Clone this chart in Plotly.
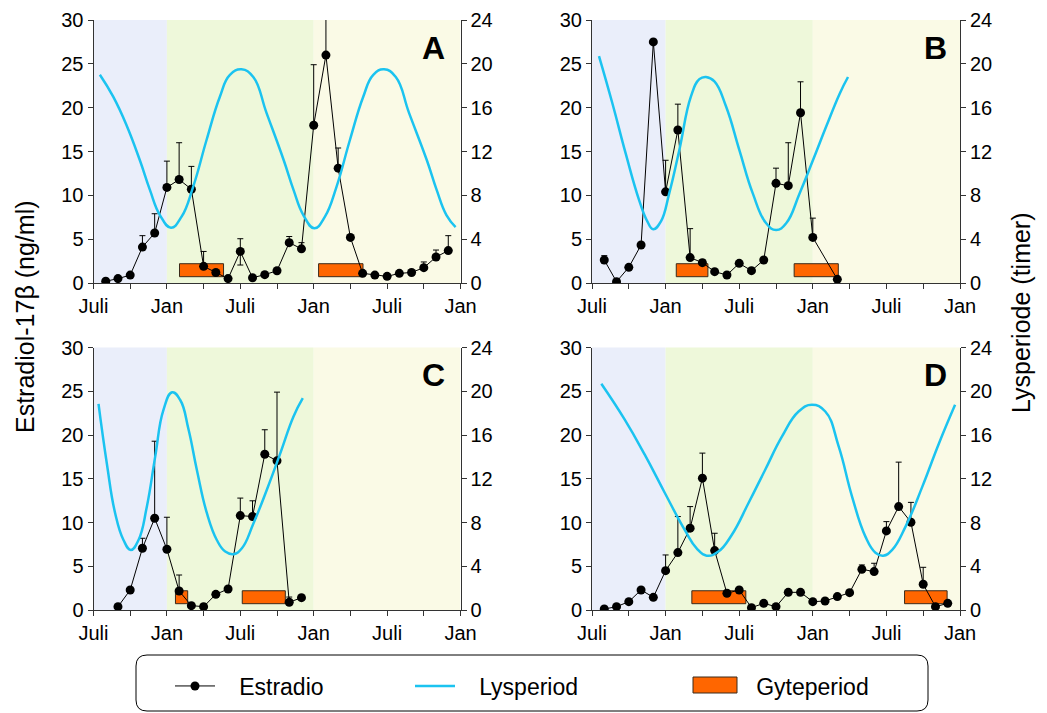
import plotly.graph_objects as go

W, H = 1047, 713
FONT = "Liberation Sans, Arial, sans-serif"

# ---------------- data ----------------
month_ticks = [0, 3, 6, 9, 12, 15, 18, 21, 24, 27, 30]
month_text = ["Juli", "", "Jan", "", "Juli", "", "Jan", "", "Juli", "", "Jan"]
left_ticks = [0, 5, 10, 15, 20, 25, 30]
right_ticks = [0, 4, 8, 12, 16, 20, 24]
season_edges = [0, 6, 18, 30]
season_colors = ["#EAEEFA", "#EEF8DA", "#FAFAE6"]

# Estradiol (ng/ml): month, mean, upper error, lower error
A_months = list(range(1, 30))
A_e2 = [0.2, 0.5, 0.9, 4.1, 5.7, 10.9, 11.8, 10.7, 1.9, 1.2, 0.5, 3.6, 0.6, 0.95, 1.4,
        4.6, 3.9, 18.0, 26.0, 13.1, 5.2, 1.1, 0.9, 0.76, 1.1, 1.2, 1.75, 2.96, 3.7]
A_err = [0, 0, 0, 1.3, 2.2, 3.0, 4.2, 2.6, 1.7, 0, 0, 1.45, 0, 0, 0,
         0.7, 0.7, 6.9, 5.0, 2.3, 0, 0, 0, 0, 0, 0, 0.65, 0.8, 1.7]
A_err_lo = [0] * 11 + [1.55] + [0] * 17

B_months = list(range(1, 19)) + [20]
B_e2 = [2.62, 0.15, 1.79, 4.33, 27.5, 10.4, 17.45, 2.9, 2.32, 1.29, 0.91, 2.24, 1.41,
        2.62, 11.37, 11.1, 19.42, 5.2, 0.42]
B_err = [0.5, 0, 0, 0, 0, 3.6, 2.95, 3.3, 0.3, 0, 0, 0, 0, 0, 1.73, 4.9, 3.53, 2.2, 0]
B_err_lo = [0] * 19

C_months = list(range(2, 18))
C_e2 = [0.38, 2.29, 7.06, 10.49, 6.94, 2.17, 0.5, 0.38, 1.79, 2.4, 10.79, 10.68,
        17.8, 17.05, 0.88, 1.41]
C_err = [0, 0, 1.14, 8.8, 3.66, 1.83, 0, 0, 0, 0, 2.0, 1.8, 2.8, 7.85, 0.6, 0]
C_err_lo = [0] * 16

D_months = list(range(1, 30))
D_e2 = [0.11, 0.38, 0.95, 2.29, 1.45, 4.5, 6.56, 9.35, 15.07, 6.79, 1.91, 2.29, 0.27,
        0.76, 0.38, 2.02, 2.02, 0.95, 1.03, 1.53, 1.98, 4.65, 4.39, 9.04, 11.82, 10.03,
        2.94, 0.38, 0.76]
D_err = [0, 0, 0, 0, 0, 1.79, 4.12, 2.47, 2.86, 1.98, 0, 0, 0, 0, 0, 0, 0, 0, 0, 0, 0,
         0.5, 0.95, 1.06, 5.08, 2.27, 1.94, 0, 0]
D_err_lo = [0] * 29

# Lysperiode (hours of light)
A_ly_m = [0.52, 1.61, 2.7, 3.79, 4.61, 5.43, 6.33, 7.2, 8.15, 9.24, 10.33, 11.15, 12.1,
          13.06, 14.15, 15.55, 16.35, 17.15, 18.05, 18.92, 19.87, 20.96, 22.05,
          22.87, 23.75, 24.71, 25.8, 27.25, 28.05, 28.85, 29.6]
A_ly = [19.0, 17.0, 14.4, 11.2, 8.5, 6.2, 5.05, 6.05, 8.8, 13.05, 17.0, 19.0, 19.5,
        18.8, 15.5, 11.2, 8.5, 6.2, 5.0, 6.05, 8.8, 13.05, 17.0, 19.0, 19.5,
        18.8, 15.5, 11.2, 8.5, 6.2, 5.1]
B_ly_m = [0.57, 1.66, 2.75, 3.84, 4.52, 4.99, 5.61, 6.3, 7.11, 8.06, 8.75, 9.29, 9.98,
          10.93, 12.02, 13.1, 14.2, 15.01, 15.83, 16.93, 18.01, 19.1, 20.2, 20.87]
B_ly = [20.7, 16.4, 11.8, 7.57, 5.6, 4.9, 5.6, 8.2, 12.1, 17.0, 18.6, 18.8, 18.4,
        16.1, 12.1, 8.2, 5.45, 4.84, 5.45, 8.2, 11.2, 14.3, 17.3, 18.8]
C_ly_m = [0.41, 1.09, 1.77, 2.45, 3.05, 3.68, 4.36, 5.04, 5.72, 6.43, 7.09, 7.77, 8.45,
          9.27, 10.08, 10.77, 11.45, 12.13, 13.08, 14.17, 15.26, 16.35, 17.11]
C_ly = [18.85, 13.4, 8.85, 6.4, 5.49, 6.4, 9.45, 14.0, 18.3, 19.9, 19.2, 16.5, 12.8,
        8.85, 6.4, 5.34, 5.1, 5.64, 7.93, 11.0, 14.3, 17.7, 19.37]
D_ly_m = [0.76, 2.67, 4.3, 5.94, 7.57, 8.53, 9.35, 10.3, 11.39, 12.75, 14.11, 15.48,
          16.84, 17.93, 19.02, 20.11, 21.2, 22.29, 23.11, 23.74, 24.47, 25.56, 26.93,
          28.29, 29.6]
D_ly = [20.68, 17.4, 14.2, 10.7, 7.3, 5.64, 4.97, 5.34, 6.86, 9.76, 12.8, 15.85, 18.15,
        18.76, 18.15, 14.95, 10.37, 6.71, 5.24, 4.97, 5.49, 7.62, 11.28, 15.25, 18.76]

# Gyteperiode (spawning) start / end months
A_gyte_start, A_gyte_end = [7.03, 18.4], [10.63, 22.03]
B_gyte_start, B_gyte_end = [6.87, 16.48], [9.45, 20.08]
C_gyte_start, C_gyte_end = [6.7, 12.16], [7.7, 15.68]
D_gyte_start, D_gyte_end = [8.14, 25.48], [12.54, 28.95]
gyte_lo, gyte_hi = 0.72, 2.2

panels = [
    ("A", A_months, A_e2, A_err, A_err_lo, A_ly_m, A_ly, A_gyte_start, A_gyte_end),
    ("B", B_months, B_e2, B_err, B_err_lo, B_ly_m, B_ly, B_gyte_start, B_gyte_end),
    ("C", C_months, C_e2, C_err, C_err_lo, C_ly_m, C_ly, C_gyte_start, C_gyte_end),
    ("D", D_months, D_e2, D_err, D_err_lo, D_ly_m, D_ly, D_gyte_start, D_gyte_end),
]

# ---------------- layout geometry (pixels -> paper) ----------------
def px(x):
    return x / W

def py(y):
    return 1 - y / H

x_dom = {"A": [px(93.5), px(460.5)], "B": [px(592), px(960)],
         "C": [px(93.5), px(460.5)], "D": [px(592), px(960)]}
y_dom = {"A": [py(283), py(20)], "B": [py(283), py(20)],
         "C": [py(610), py(347.5)], "D": [py(610), py(347.5)]}
letter_pos = {"A": (433, 48), "B": (935, 48), "C": (433, 375), "D": (935, 375)}

fig = go.Figure()
layout = dict(
    width=W, height=H, margin=dict(l=0, r=0, t=0, b=0, autoexpand=False),
    paper_bgcolor="white", plot_bgcolor="white",
    font=dict(family=FONT, size=20, color="black"),
    barmode="overlay", shapes=[], annotations=[],
)

AX_COL = "#333333"
LY_COL = "#1BC3F0"
OR_COL = "#FF6600"
TICK_FONT = dict(size=20, family=FONT, color="black")

for i, (name, m, e2, err, errlo, lym, ly, gs, ge) in enumerate(panels):
    n = i + 1
    xa = "x" if n == 1 else f"x{n}"
    yl = "y" if n == 1 else f"y{2 * n - 1}"
    yr = f"y{2 * n}"
    xkey = "xaxis" if n == 1 else f"xaxis{n}"
    ylkey = "yaxis" if n == 1 else f"yaxis{2 * n - 1}"
    yrkey = f"yaxis{2 * n}"

    common = dict(ticks="outside", ticklen=5, tickcolor=AX_COL, showline=True,
                  linecolor=AX_COL, linewidth=1, showgrid=False, zeroline=False,
                  tickfont=TICK_FONT, automargin=False, tickmode="array")
    layout[xkey] = dict(common, domain=x_dom[name], anchor=yl, range=[0, 30],
                        tickvals=month_ticks, ticktext=month_text)
    layout[ylkey] = dict(common, domain=y_dom[name], anchor=xa, range=[0, 30],
                         tickvals=left_ticks)
    layout[yrkey] = dict(common, overlaying=yl, anchor=xa, side="right",
                         range=[0, 24], tickvals=right_ticks)

    # seasonal background bands
    for k in range(3):
        layout["shapes"].append(dict(type="rect", xref=xa, yref=f"{yl} domain",
                                     x0=season_edges[k], x1=season_edges[k + 1],
                                     y0=0, y1=1, fillcolor=season_colors[k],
                                     line=dict(width=0), layer="below"))

    # spawning periods
    centers = [(a + b) / 2 for a, b in zip(gs, ge)]
    widths = [b - a for a, b in zip(gs, ge)]
    fig.add_trace(go.Bar(x=centers, y=[gyte_hi - gyte_lo] * len(gs),
                         base=[gyte_lo] * len(gs), width=widths,
                         marker=dict(color=OR_COL, line=dict(color="#3a2a1a", width=1)),
                         xaxis=xa, yaxis=yl, showlegend=False, name="Gyteperiod"))

    # estradiol
    fig.add_trace(go.Scatter(x=m, y=e2, mode="lines+markers",
                             name="\u00a0\u00a0\u00a0Estradio",
                             line=dict(color="black", width=1),
                             marker=dict(color="black", size=9),
                             error_y=dict(type="data", symmetric=False, array=err,
                                          arrayminus=errlo, color="black",
                                          thickness=1, width=3),
                             xaxis=xa, yaxis=yl, legend="legend",
                             showlegend=(n == 1)))

    # light period
    fig.add_trace(go.Scatter(x=lym, y=ly, mode="lines",
                             name="\u00a0\u00a0\u00a0Lysperiod",
                             line=dict(color=LY_COL, width=2.5, shape="spline",
                                       smoothing=1.3),
                             xaxis=xa, yaxis=yr, legend="legend2",
                             showlegend=(n == 1)))

    lx, lyy = letter_pos[name]
    layout["annotations"].append(dict(text=f"<b>{name}</b>", x=px(lx), y=py(lyy),
                                      xref="paper", yref="paper", showarrow=False,
                                      xanchor="center", yanchor="middle",
                                      font=dict(size=32, family=FONT, color="black")))

# legend-only entry for Gyteperiod
fig.add_trace(go.Bar(x=[None], y=[None], name="\u00a0\u00a0\u00a0Gyteperiod",
                     marker=dict(color=OR_COL, line=dict(width=0)),
                     xaxis="x", yaxis="y", legend="legend3", showlegend=True))

# axis titles
layout["annotations"].append(dict(text="Estradiol-17β (ng/ml)", x=px(25), y=py(317),
                                  xref="paper", yref="paper", showarrow=False,
                                  xanchor="center", yanchor="middle",
                                  textangle=-90, font=dict(size=25)))
layout["annotations"].append(dict(text="Lysperiode (timer)", x=px(1021), y=py(313),
                                  xref="paper", yref="paper", showarrow=False,
                                  xanchor="center", yanchor="middle",
                                  textangle=-90, font=dict(size=25)))

# rounded legend frame
x0, x1, y0, y1, r = 136, 928, 655, 711, 11
path = (f"M {px(x0 + r)} {py(y0)} L {px(x1 - r)} {py(y0)} "
        f"Q {px(x1)} {py(y0)} {px(x1)} {py(y0 + r)} L {px(x1)} {py(y1 - r)} "
        f"Q {px(x1)} {py(y1)} {px(x1 - r)} {py(y1)} L {px(x0 + r)} {py(y1)} "
        f"Q {px(x0)} {py(y1)} {px(x0)} {py(y1 - r)} L {px(x0)} {py(y0 + r)} "
        f"Q {px(x0)} {py(y0)} {px(x0 + r)} {py(y0)} Z")
layout["shapes"].append(dict(type="path", xref="paper", yref="paper", path=path,
                             line=dict(color="black", width=1), fillcolor="rgba(0,0,0,0)"))
# wide swatch for Gyteperiod legend icon
layout["shapes"].append(dict(type="rect", xref="paper", yref="paper",
                             x0=px(693), x1=px(737), y0=py(693), y1=py(677),
                             fillcolor=OR_COL, line=dict(color="#3a2a1a", width=1)))

leg_common = dict(orientation="h", yanchor="middle", xanchor="left",
                  bgcolor="rgba(0,0,0,0)", borderwidth=0, itemwidth=40,
                  font=dict(size=23, family=FONT), y=py(686))
layout["legend"] = dict(leg_common, x=px(170))
layout["legend2"] = dict(leg_common, x=px(410))
layout["legend3"] = dict(leg_common, x=px(687))

fig.update_layout(**layout)
fig.write_html("out.html",
               config={"displayModeBar": False},
               post_script="document.body.style.margin='0px';"
                           "document.body.style.overflow='hidden';")
